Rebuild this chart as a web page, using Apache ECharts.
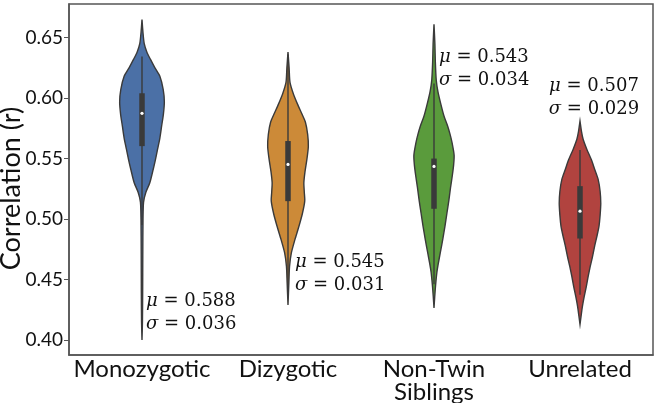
<!DOCTYPE html>
<html>
<head>
<meta charset="utf-8">
<script src="https://cdn.jsdelivr.net/npm/echarts@6/dist/echarts.min.js"></script>
<style>
  html, body { margin: 0; padding: 0; background: #fff; }
  #chart { width: 656px; height: 403px; }
</style>
</head>
<body>
<div id="chart"></div>
<script>
// ---- Data ----
const categories = ['Monozygotic', 'Dizygotic', 'Non-Twin\nSiblings', 'Unrelated'];
const yTicks = [0.40, 0.45, 0.50, 0.55, 0.60, 0.65];

// Kernel density outlines (correlation value, relative density)
const monoVals = [0.665, 0.655, 0.645, 0.638, 0.632, 0.625, 0.618, 0.607, 0.597, 0.587, 0.577, 0.567, 0.558, 0.549, 0.541, 0.530, 0.522, 0.514, 0.500, 0.470, 0.440, 0.415, 0.400];
const monoDens = [0, 0.04, 0.10, 0.22, 0.38, 0.58, 0.80, 0.95, 1.00, 0.96, 0.88, 0.80, 0.70, 0.60, 0.50, 0.35, 0.17, 0.07, 0.045, 0.035, 0.03, 0.02, 0];

const diVals = [0.638, 0.625, 0.613, 0.603, 0.594, 0.587, 0.580, 0.570, 0.560, 0.550, 0.539, 0.530, 0.522, 0.515, 0.505, 0.494, 0.483, 0.472, 0.461, 0.448, 0.429];
const diDens = [0, 0.05, 0.09, 0.25, 0.45, 0.62, 0.78, 0.88, 0.91, 0.85, 0.76, 0.71, 0.73, 0.75, 0.65, 0.49, 0.31, 0.15, 0.07, 0.04, 0];

const ntVals = [0.661, 0.645, 0.630, 0.615, 0.605, 0.594, 0.585, 0.577, 0.570, 0.563, 0.553, 0.545, 0.536, 0.526, 0.516, 0.505, 0.494, 0.483, 0.472, 0.464, 0.456, 0.445, 0.435, 0.4265];
const ntDens = [0, 0.04, 0.06, 0.10, 0.18, 0.32, 0.45, 0.61, 0.72, 0.81, 0.90, 0.88, 0.82, 0.74, 0.67, 0.58, 0.49, 0.39, 0.28, 0.20, 0.13, 0.07, 0.03, 0];

const unVals = [0.581, 0.572, 0.566, 0.558, 0.549, 0.541, 0.533, 0.523, 0.513, 0.503, 0.494, 0.486, 0.478, 0.469, 0.461, 0.453, 0.444, 0.436, 0.428, 0.420, 0.413];
const unDens = [0, 0.07, 0.14, 0.30, 0.51, 0.66, 0.81, 0.90, 0.93, 0.90, 0.85, 0.76, 0.66, 0.56, 0.46, 0.37, 0.28, 0.19, 0.11, 0.05, 0];

// Inner box statistics
const q1 = [0.5603, 0.5148, 0.5085, 0.4839];
const medians = [0.5874, 0.5452, 0.5435, 0.5065];
const q3 = [0.6040, 0.5645, 0.5500, 0.5272];
const whiskerLo = [0.495, 0.440, 0.446, 0.4375];
const whiskerHi = [0.6343, 0.636, 0.612, 0.557];

// Annotation values
const means = [0.588, 0.545, 0.543, 0.507];
const sds = [0.036, 0.031, 0.034, 0.029];

// ---- Layout / style (not data) ----
const colors = ['#4b70a6', '#cc8a38', '#5a9b3c', '#b1433f'];
const outline = '#3a3a3a';
const annotAnchor = [0.4225, 0.4545, 0.6245, 0.600]; // vertical centre of each annotation block
const annotDx = [4, 7, 5, 14];
const annotAlign = ['left', 'left', 'left', 'center'];

const violins = [
  { vals: monoVals, dens: monoDens },
  { vals: diVals, dens: diDens },
  { vals: ntVals, dens: ntDens },
  { vals: unVals, dens: unDens }
];

function renderViolin(params, api) {
  const i = api.value(0);
  const v = violins[i];
  const band = api.size([1, 0])[0];
  const s = band * 0.153;
  const cx = api.coord([i, medians[i]])[0];
  const right = [], left = [];
  for (let k = 0; k < v.vals.length; k++) {
    const y = api.coord([i, v.vals[k]])[1];
    right.push([cx + v.dens[k] * s, y]);
    left.push([cx - v.dens[k] * s, y]);
  }
  const pts = right.concat(left.reverse());
  const yQ1 = api.coord([i, q1[i]])[1];
  const yQ3 = api.coord([i, q3[i]])[1];
  const yMed = api.coord([i, medians[i]])[1];
  const yLo = api.coord([i, whiskerLo[i]])[1];
  const yHi = api.coord([i, whiskerHi[i]])[1];
  const bw = 5.5;
  return {
    type: 'group',
    children: [
      { type: 'polygon', shape: { points: pts, smooth: 0.25 },
        style: { fill: colors[i], stroke: outline, lineWidth: 1.4 } },
      { type: 'line', shape: { x1: cx, y1: yHi, x2: cx, y2: yLo },
        style: { stroke: outline, lineWidth: 1.4 } },
      { type: 'rect', shape: { x: cx - bw / 2, y: yQ3, width: bw, height: yQ1 - yQ3 },
        style: { fill: outline } },
      { type: 'circle', shape: { cx: cx, cy: yMed, r: 1.6 },
        style: { fill: '#ffffff' } }
    ]
  };
}

function renderAnnot(params, api) {
  const i = api.value(0);
  const cx = api.coord([i, annotAnchor[i]])[0];
  const cy = api.coord([i, annotAnchor[i]])[1];
  return {
    type: 'text',
    style: {
      text: '{i|\u03bc} = ' + means[i].toFixed(3) + '\n{i|\u03c3} = ' + sds[i].toFixed(3),
      x: cx + annotDx[i],
      y: cy,
      align: annotAlign[i],
      verticalAlign: 'middle',
      fontFamily: 'DejaVu Serif',
      fontSize: 18,
      lineHeight: 23,
      fill: '#111',
      rich: {
        i: { fontFamily: 'DejaVu Serif', fontSize: 18, fontStyle: 'italic', lineHeight: 23, fill: '#111' }
      }
    }
  };
}

const chart = echarts.init(document.getElementById('chart'), null, { renderer: 'canvas' });
chart.setOption({
  animation: false,
  grid: { left: 69, right: 3, top: 4, bottom: 48, containLabel: false, outerBoundsMode: 'none',
          show: true, borderColor: '#555', borderWidth: 1.5, backgroundColor: 'transparent' },
  xAxis: {
    type: 'category',
    data: categories,
    axisLine: { lineStyle: { color: '#555', width: 1.5 } },
    axisTick: { alignWithLabel: true, length: 5, lineStyle: { color: '#555' } },
    axisLabel: { interval: 0, fontFamily: 'Lato', fontSize: 24, color: '#111', margin: 3, lineHeight: 23 }
  },
  yAxis: {
    type: 'value',
    min: 0.3876,
    max: 0.6778,
    splitNumber: 5,
    splitLine: { show: false },
    axisLine: { show: true, lineStyle: { color: '#555', width: 1.5 } },
    axisTick: { show: true, length: 5, lineStyle: { color: '#555' } },
    axisLabel: {
      fontFamily: 'Lato', fontSize: 19, color: '#111', margin: 6,
      showMinLabel: false, showMaxLabel: false,
      formatter: function (v) {
        for (const t of yTicks) { if (Math.abs(v - t) < 1e-6) return t.toFixed(2); }
        return '';
      }
    },
    name: 'Correlation (r)',
    nameLocation: 'middle',
    nameGap: 44,
    nameMoveOverlap: false,
    nameTextStyle: { fontFamily: 'Lato', fontSize: 27, color: '#111', padding: [0, 18, 0, 0] }
  },
  series: [
    { type: 'custom', renderItem: renderViolin, data: categories.map((c, i) => [i]), clip: false, z: 2 },
    { type: 'custom', renderItem: renderAnnot, data: categories.map((c, i) => [i]), clip: false, z: 3 }
  ]
});
</script>
</body>
</html>
